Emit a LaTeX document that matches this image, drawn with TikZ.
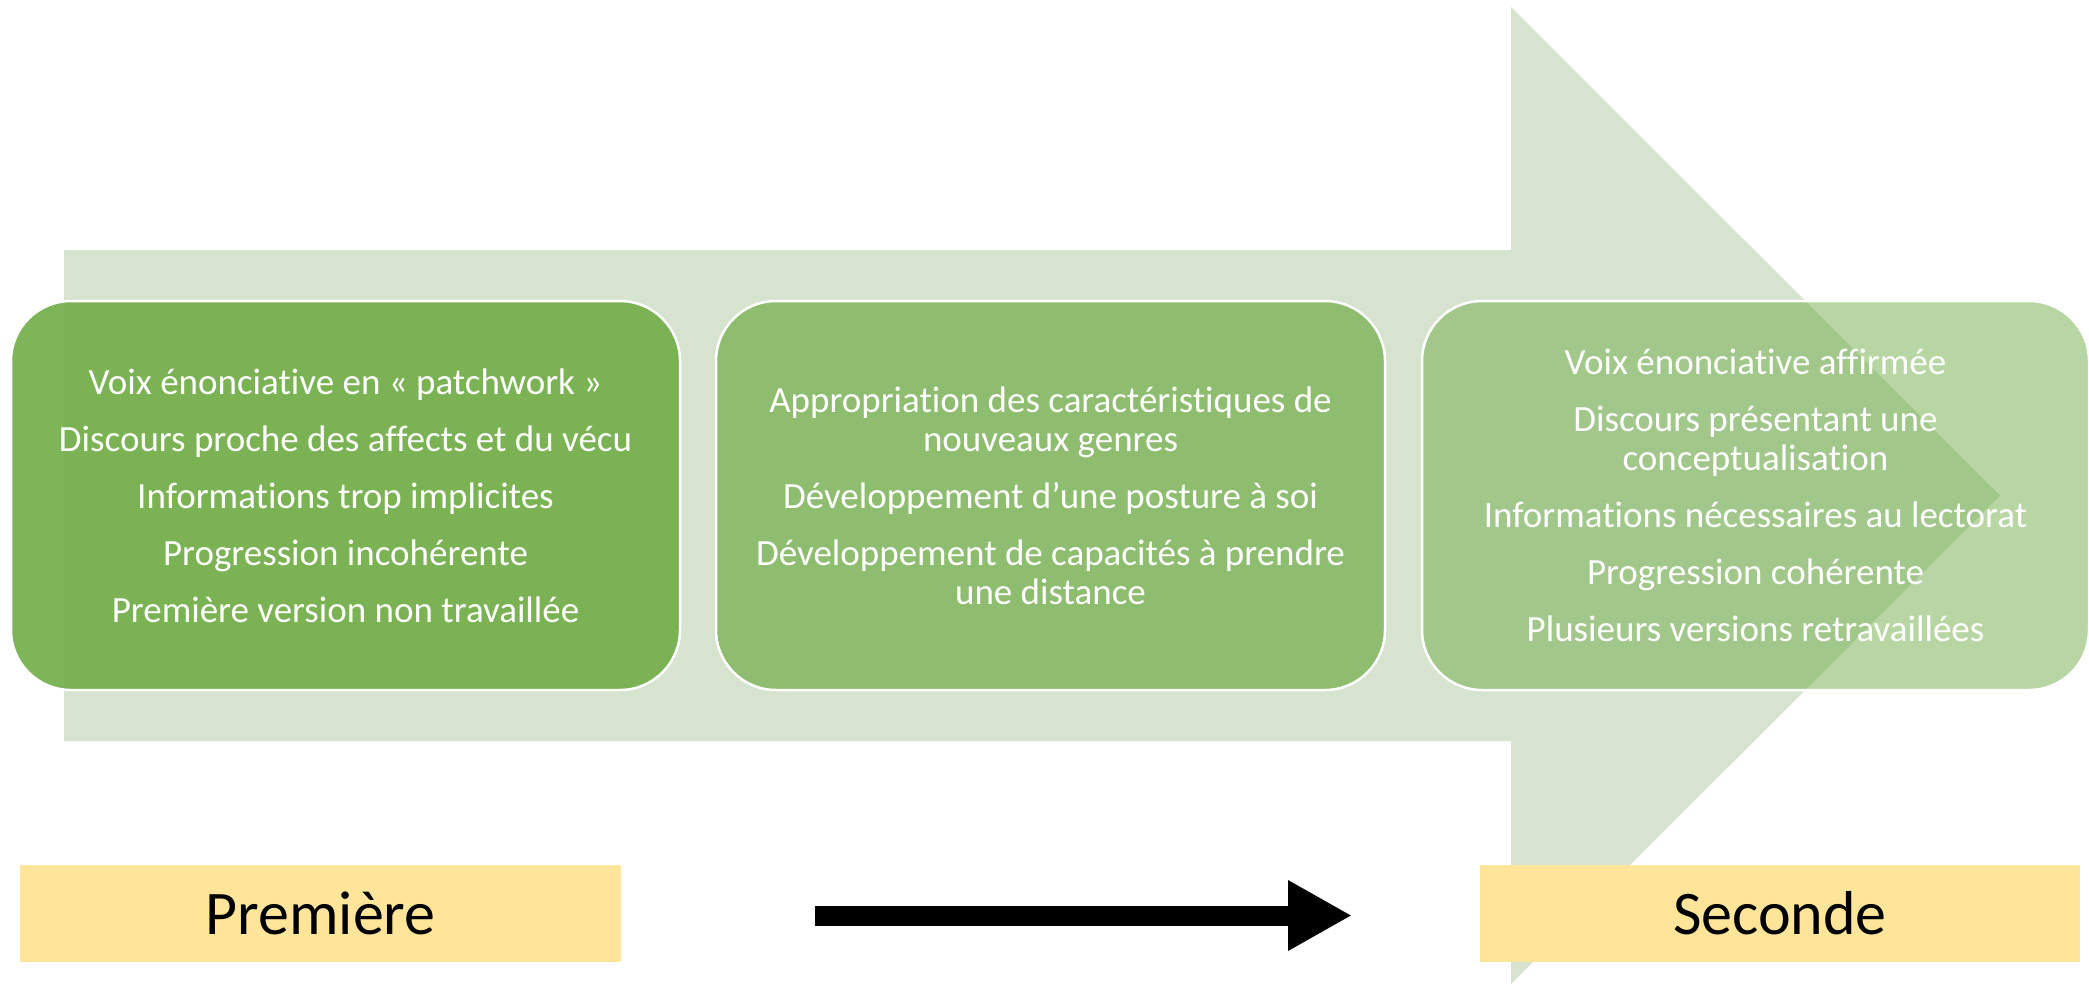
\documentclass[tikz,border=0pt]{standalone}
\usepackage{fontspec}
\setmainfont[Ligatures={NoCommon,NoRare,NoContextual}]{Carlito}
\usetikzlibrary{arrows.meta}
\definecolor{accgreen}{HTML}{70AD47}
\definecolor{arrowgreen}{HTML}{D6E3CF}
\definecolor{labelyellow}{HTML}{FFE599}
\tikzset{
  greenbox/.style={draw=white, line width=2.5, fill=accgreen, rounded corners=60,
    minimum width=669, minimum height=389, inner sep=0, align=center,
    text=white, font=\fontsize{37}{39}\selectfont},
  labelbox/.style={fill=labelyellow, minimum width=601, minimum height=97,
    inner sep=0, font=\fontsize{62}{70}\selectfont, text=black},
}
\begin{document}
\begin{tikzpicture}[x=1pt,y=-1pt]
\useasboundingbox (0,0) rectangle (2089,983);
\clip (0,0) rectangle (2089,983);
% big background arrow
\fill[arrowgreen] (64,250) -- (1511,250) -- (1511,7) -- (2000,495.5) -- (1511,984) -- (1511,741) -- (64,741) -- cycle;
% boxes
\node[greenbox, fill opacity=0.9, text opacity=1] (b1) at (345.5,495.5)
  {Voix énonciative en « patchwork »\\[18pt]
   Discours proche des affects et du vécu\\[18pt]
   Informations trop implicites\\[18pt]
   Progression incohérente\\[18pt]
   Première version non travaillée};
\node[greenbox, fill opacity=0.7, text opacity=1] (b2) at (1050.5,495.5)
  {Appropriation des caractéristiques de\\
   nouveaux genres\\[18pt]
   Développement d’une posture à soi\\[18pt]
   Développement de capacités à prendre\\
   une distance};
\node[greenbox, fill opacity=0.5, text opacity=1, minimum width=667] (b3) at (1755.5,495.5)
  {Voix énonciative affirmée\\[18pt]
   Discours présentant une\\
   conceptualisation\\[18pt]
   Informations nécessaires au lectorat\\[18pt]
   Progression cohérente\\[18pt]
   Plusieurs versions retravaillées};
% labels
\node[labelbox] (l1) at (320.5,913.5) {Première};
\node[labelbox, minimum width=600] (l2) at (1780,913.5) {Seconde};
% black arrow
\coordinate (as) at (815,915.5);
\coordinate (ae) at (1352,915.5);
\draw[black, line width=20, -{Triangle[length=64pt, width=66pt]}] (as) -- (ae);
\end{tikzpicture}
\end{document}
